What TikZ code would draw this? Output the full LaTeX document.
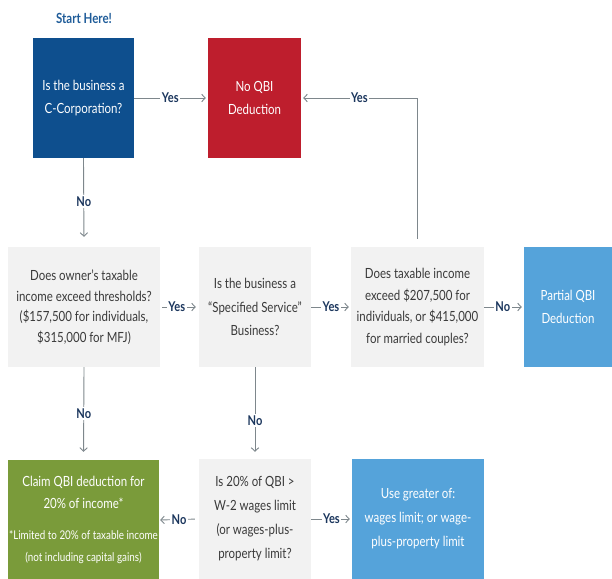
\documentclass[tikz,border=0pt]{standalone}
\usepackage{fontspec}
\setmainfont{Lato}[FakeStretch=0.82]
\usetikzlibrary{arrows.meta}
\definecolor{cblue}{HTML}{0E4F8E}
\definecolor{cred}{HTML}{BE1E2D}
\definecolor{lblue}{HTML}{55A3DA}
\definecolor{cgreen}{HTML}{7A9B3A}
\definecolor{cgray}{HTML}{F2F2F2}
\definecolor{navy}{HTML}{1B365D}
\definecolor{linegray}{HTML}{7E878C}
\definecolor{txtgray}{HTML}{3A3A3A}
\definecolor{startblue}{HTML}{1F5C99}
\begin{document}
\begin{tikzpicture}[x=1pt,y=-1pt,
  box/.style={rectangle, inner sep=0pt, align=center, font=\fontsize{14}{21}\selectfont},
  graybox/.style={box, fill=cgray, text=txtgray},
  colbox/.style={box, text=white},
  conn/.style={draw=linegray, line width=0.9pt, -{Straight Barb[length=3.5pt,width=7.5pt]}},
  lbl/.style={fill=white, inner sep=1.5pt, text=navy, font=\bfseries\fontsize{13.5}{13.5}\selectfont}
]
\path[use as bounding box] (0,0) rectangle (612,578);

\node[font=\bfseries\fontsize{14}{14}\selectfont, text=startblue] (start) at (84,18) {Start Here!};

\node[colbox, fill=cblue, minimum width=101pt, minimum height=120pt, font=\fontsize{14}{23}\selectfont] (ccorp) at (83.5,98) {Is the business a\\C-Corporation?};
\node[colbox, fill=cred, minimum width=93pt, minimum height=120pt, font=\fontsize{14}{23}\selectfont] (noqbi) at (254.5,98) {No QBI\\Deduction};

\node[graybox, minimum width=152pt, minimum height=120pt, font=\fontsize{14}{20.5}\selectfont] (b1) at (84,307) {Does owner’s taxable\\income exceed thresholds?\\(\$157,500 for individuals,\\\$315,000 for MFJ)};
\node[graybox, minimum width=112pt, minimum height=120pt, font=\fontsize{14}{23.5}\selectfont] (b2) at (255,307) {Is the business a\\“Specified Service”\\Business?};
\node[graybox, minimum width=133pt, minimum height=120pt, font=\fontsize{14}{21.5}\selectfont] (b3) at (417.5,307) {Does taxable income\\exceed \$207,500 for\\individuals, or \$415,000\\for married couples?};
\node[colbox, fill=lblue, minimum width=88pt, minimum height=120pt, font=\fontsize{14}{23}\selectfont] (partial) at (568,307) {Partial QBI\\Deduction};

\node[colbox, fill=cgreen, minimum width=151pt, minimum height=120pt, font=\fontsize{14}{22}\selectfont] (green) at (83.5,520) {Claim QBI deduction for\\20\% of income*\\[9pt]{\fontsize{12}{19}\selectfont *Limited to 20\% of taxable income}\\{\fontsize{12}{19}\selectfont (not including capital gains)}};
\node[graybox, minimum width=112pt, minimum height=120pt, font=\fontsize{14}{24}\selectfont] (b5) at (255,519) {Is 20\% of QBI >\\W-2 wages limit\\(or wages-plus-\\property limit?};
\node[colbox, fill=lblue, minimum width=132pt, minimum height=120pt, font=\fontsize{14}{24}\selectfont] (blue2) at (418,519) {Use greater of:\\wages limit; or wage-\\plus-property limit};

% connectors
\draw[conn, shorten >=2pt] (ccorp.east) -- node[lbl, pos=0.49] {Yes} (noqbi.west);
\draw[conn, shorten <=8pt, shorten >=2pt] (b3.north) |- node[lbl, pos=0.75] {Yes} (noqbi.east);
\draw[conn, shorten >=10pt] (ccorp.south) -- node[lbl, pos=0.49] {No} (b1.north);
\draw[conn, shorten >=8pt] (b1.south) -- node[lbl, pos=0.5] {No} (green.north);
\draw[conn, shorten >=7pt] (b2.south) -- node[lbl, pos=0.58] {No} (b5.north);
\draw[conn, shorten <=2pt, shorten >=3pt] (b1.east) -- node[lbl, pos=0.43] {Yes} (b2.west);
\draw[conn, shorten >=2pt] (b2.east) -- node[lbl, pos=0.5] {Yes} (b3.west);
\draw[conn, shorten >=2pt] (b3.east) -- node[lbl, pos=0.47] {No} (partial.west);
\draw[conn, shorten <=4pt, shorten >=1pt] (b5.west) -- node[lbl, pos=0.5] {No} (green.east);
\draw[conn, shorten >=2pt] (b5.east) -- node[lbl, pos=0.5] {Yes} (blue2.west);
\end{tikzpicture}
\end{document}
